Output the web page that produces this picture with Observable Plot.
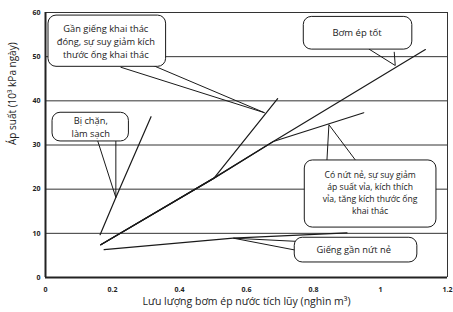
<!DOCTYPE html>
<html>
<head>
<meta charset="utf-8">
<script src="https://cdn.jsdelivr.net/npm/d3@7"></script>
<script src="https://cdn.jsdelivr.net/npm/@observablehq/plot@0.6"></script>
<style>
  html, body { margin: 0; padding: 0; background: #fff; }
  #chart svg { display: block; }
</style>
</head>
<body>
<div id="chart"></div>
<script>
// ---- Data ----
const xTicks = [0, 0.2, 0.4, 0.6, 0.8, 1, 1.2];
const xTickLabels = ["0", "0.2", "0.4", "0.6", "0.8", "1", "1.2"];
const yTicks = [0, 10, 20, 30, 40, 50, 60];

// Bị chặn, làm sạch
const biChanX = [0.163, 0.21, 0.315];
const biChanY = [9.7, 18.1, 36.4];
// Gần giếng khai thác đóng
const ganGiengX = [0.165, 0.503, 0.693];
const ganGiengY = [7.4, 22.5, 40.5];
// Bơm ép tốt
const bomEpX = [0.165, 0.503, 0.68, 1.134];
const bomEpY = [7.4, 22.5, 30.8, 51.6];
// Có nứt nẻ
const nutNeX = [0.165, 0.503, 0.68, 0.95];
const nutNeY = [7.4, 22.5, 30.8, 37.3];
// Giếng gần nứt nẻ
const gienNutX = [0.175, 0.56, 0.9];
const gienNutY = [6.3, 8.9, 10.1];

const seriesX = [biChanX, ganGiengX, bomEpX, nutNeX, gienNutX];
const seriesY = [biChanY, ganGiengY, bomEpY, nutNeY, gienNutY];

// Callout texts and where their pointers touch the curves
const calloutTexts = [
  ["Gần giếng khai thác", "đóng, sự suy giảm kích", "thước ống khai thác"],
  ["Bị chặn,", "làm sạch"],
  ["Bơm ép tốt"],
  ["Có nứt nẻ, sự suy giảm", "áp suất vỉa, kích thích", "vỉa, tăng kích thước ống", "khai thác"],
  ["Giếng gần nứt nẻ"]
];
const calloutTipX = [0.654, 0.21, 1.044, 0.846, 0.561];
const calloutTipY = [37.3, 18.1, 48.0, 34.6, 8.9];

const xLabel = "Lưu lượng bơm ép nước tích lũy (nghìn m³)";
const yLabel = "Áp suất (10³ kPa ngày)";

// ---- Layout for annotations (in data units) ----
const boxes = [
  {x1: 0.009, x2: 0.36,  y1: 47.7, y2: 59.3, tx: 0.18, ty: [56.2, 53.3, 50.4], fs: 9.3},
  {x1: 0.021, x2: 0.249, y1: 30.8, y2: 37.3, tx: 0.135, ty: [35.5, 32.6], fs: 9.3},
  {x1: 0.771, x2: 1.095, y1: 51.6, y2: 59.0, tx: 0.93, ty: [55.3], fs: 9.5},
  {x1: 0.774, x2: 1.167, y1: 11.3, y2: 26.5, tx: 0.969, ty: [23.2, 20.5, 17.8, 15.1], fs: 8.6},
  {x1: 0.744, x2: 1.11,  y1: 3.4,  y2: 9.0,  tx: 0.92, ty: [6.3], fs: 9.3}
];
const tailBases = [
  [[0.225, 47.6], [0.315, 48.2]],
  [[0.156, 30.9], [0.21, 30.9]],
  [[0.966, 51.7], [1.041, 51.0]],
  [[0.84, 26.4], [0.924, 26.7]],
  [[0.745, 8.2], [0.753, 6.1]]
];

const lineData = [];
seriesX.forEach((xs, i) => xs.forEach((x, j) => lineData.push({s: i, x, y: seriesY[i][j]})));

const tailData = [];
tailBases.forEach((b, i) => {
  tailData.push({k: i, x: b[0][0], y: b[0][1]});
  tailData.push({k: i, x: calloutTipX[i], y: calloutTipY[i]});
  tailData.push({k: i, x: b[1][0], y: b[1][1]});
});

const textData = [];
boxes.forEach((b, i) => calloutTexts[i].forEach((t, j) => textData.push({t, x: b.tx, y: b.ty[j], fs: b.fs})));

const font = "'Open Sans', 'Noto Sans', sans-serif";

const chart = Plot.plot({
  width: 453,
  height: 312,
  marginLeft: 45,
  marginRight: 6,
  marginTop: 12,
  marginBottom: 35,
  style: {fontFamily: font, background: "#fff", color: "#222"},
  x: {domain: [0, 1.2]},
  y: {domain: [0, 60]},
  marks: [
    Plot.ruleY(yTicks.filter(d => d > 0), {stroke: "#333", strokeWidth: 1}),
    Plot.ruleX([1.2], {stroke: "#333", strokeWidth: 1}),
    Plot.ruleX([0], {stroke: "#222", strokeWidth: 2}),
    Plot.ruleY([0], {stroke: "#222", strokeWidth: 2}),
    Plot.axisX({ticks: xTicks, tickFormat: d => xTickLabels[xTicks.indexOf(d)], tickSize: 0, tickPadding: 10,
      fontSize: 7, fontWeight: "bold", label: null}),
    Plot.axisY({ticks: yTicks, tickSize: 0, tickPadding: 5, fontSize: 7, fontWeight: "bold", label: null}),
    Plot.text([xLabel], {frameAnchor: "bottom", dy: 27, fontSize: 10.5, fill: "#222"}),
    Plot.text([yLabel], {frameAnchor: "left", dx: -33, rotate: -90, fontSize: 10, fill: "#222"}),
    Plot.line(lineData, {x: "x", y: "y", z: "s", stroke: "#1a1a1a", strokeWidth: 1.2}),
    Plot.line(tailData, {x: "x", y: "y", z: "k", stroke: "#1a1a1a", strokeWidth: 1}),
    Plot.rect(boxes, {x1: "x1", x2: "x2", y1: "y1", y2: "y2", fill: "#fff", stroke: "#1a1a1a", strokeWidth: 1, rx: 8}),
    Plot.text(textData, {x: "x", y: "y", text: "t", fontSize: d => d.fs, fill: "#1a1a1a"})
  ]
});
document.getElementById("chart").appendChild(chart);
</script>
</body>
</html>
